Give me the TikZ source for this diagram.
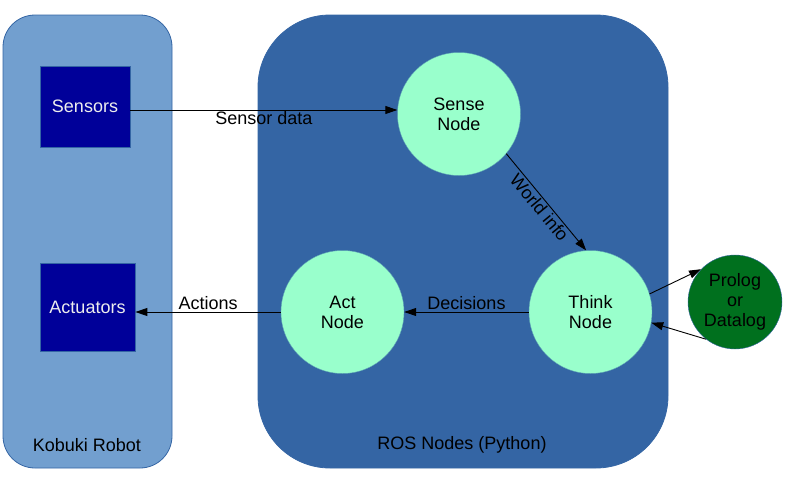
\documentclass[tikz,border=0pt]{standalone}
\usepackage{fontspec}
\setmainfont{Liberation Sans}
\usetikzlibrary{arrows.meta}
\definecolor{lightpanel}{HTML}{729FCF}
\definecolor{panelborder}{HTML}{3465A4}
\definecolor{darkpanel}{HTML}{3465A4}
\definecolor{hwbox}{HTML}{000099}
\definecolor{mint}{HTML}{99FFCC}
\definecolor{prologgreen}{HTML}{00701E}
\tikzset{
  panel/.style={draw=panelborder, line width=0.8pt},
  hwnode/.style={draw=panelborder, fill=hwbox, text=white!93!black, line width=0.8pt, inner sep=0pt, font=\fontsize{18}{20}\selectfont},
  rosnode/.style={circle, draw=panelborder!60!mint, fill=mint, minimum size=123pt, inner sep=0pt, align=center, font=\fontsize{18}{20}\selectfont},
  prolognode/.style={circle, draw=panelborder, fill=prologgreen, minimum size=94pt, inner sep=0pt, align=center, font=\fontsize{18}{20}\selectfont},
  conn/.style={line width=0.9pt, -{Triangle[length=12pt,width=8pt]}},
  lbl/.style={font=\fontsize{18}{20}\selectfont, inner sep=1.5pt},
  paneltext/.style={font=\fontsize{18}{20}\selectfont}
}
\begin{document}
\begin{tikzpicture}[x=1pt,y=-1pt]
\useasboundingbox (0,0) rectangle (788,485);
% panels
\draw[panel, fill=lightpanel, rounded corners=32pt] (3,15) rectangle (172,468);
\draw[panel, fill=darkpanel, rounded corners=72pt] (258,15) rectangle (668,468);
\node[paneltext] (kobuki) at (87,445) {Kobuki Robot};
\node[paneltext] (ros) at (462,445) {ROS Nodes (Python)};
% hardware boxes
\node[hwnode, minimum width=90pt, minimum height=81pt] (sensors) at (85,106.5) {Sensors};
\node[hwnode, minimum width=95pt, minimum height=88pt] (actuators) at (87.5,307) {Actuators};
% ROS nodes
\node[rosnode] (sense) at (459,114) {Sense\\Node};
\node[rosnode] (think) at (590.5,312) {Think\\Node};
\node[rosnode] (act) at (342.5,312) {Act\\Node};
\node[prolognode] (prolog) at (735,302) {Prolog\\or\\Datalog};
% connectors
\draw[conn] (sensors.east |- 0,110) -- (sense.west |- 0,110) node[lbl, midway, below] {Sensor data};
\draw[conn] (sense.-40) -- (think.94) node[lbl, midway, sloped, below] {World info};
\draw[conn] (think) -- (act) node[lbl, midway, above] {Decisions};
\draw[conn] (act.west) -- (actuators.east |- act.west) node[lbl, midway, above] {Actions};
\draw[conn] (think.17) -- (prolog.136);
\draw[conn] (prolog.232) -- (think.-10);
\end{tikzpicture}
\end{document}
